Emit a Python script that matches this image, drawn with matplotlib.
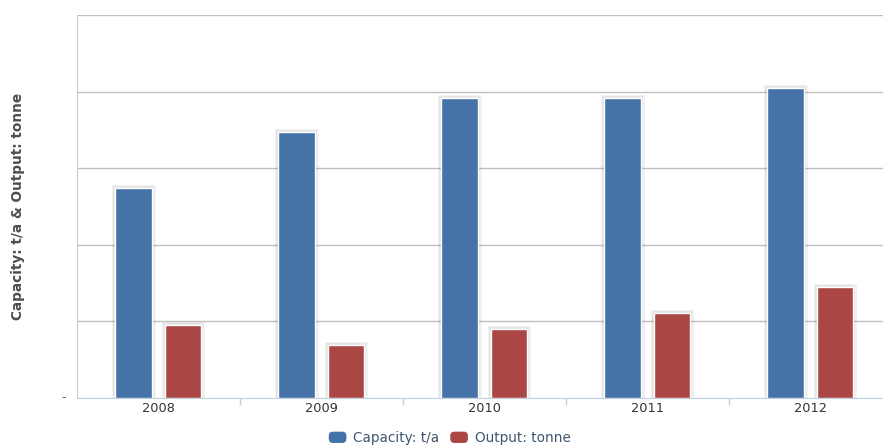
import matplotlib
matplotlib.use("Agg")
from matplotlib import pyplot as plt
from matplotlib import patheffects as pe
from matplotlib.patches import FancyBboxPatch
from matplotlib.legend_handler import HandlerPatch
import numpy as np

# datos (unidades = lineas de la cuadricula)
years = ["2008", "2009", "2010", "2011", "2012"]
capacity = [2.74, 3.47, 3.92, 3.92, 4.05]
output = [0.95, 0.69, 0.90, 1.11, 1.45]

blue = "#4572A7"
red = "#AA4643"

fig = plt.figure(figsize=(8.83, 4.48), dpi=100)
ax = fig.add_axes([77 / 883, 50 / 448, 815 / 883, 383 / 448])

x = np.arange(len(years))
# halo gris suave alrededor de las barras
sombra = [pe.Stroke(linewidth=5, foreground="#000000", alpha=0.05),
          pe.Stroke(linewidth=3, foreground="#000000", alpha=0.05),
          pe.Normal()]

b1 = ax.bar(x - 0.153, capacity, width=0.225, color=blue, edgecolor="white", linewidth=1,
            label="Capacity: t/a", zorder=3)
b2 = ax.bar(x + 0.15, output, width=0.225, color=red, edgecolor="white", linewidth=1,
            label="Output: tonne", zorder=3)
for barra in list(b1) + list(b2):
    barra.set_path_effects(sombra)

ax.set_xlim(-0.5, 4.5)
ax.set_ylim(0, 5)
ax.set_yticks([1, 2, 3, 4, 5])
ax.set_yticklabels([])
ax.grid(axis="y", color="#c0c0c0", linewidth=1, zorder=0)
ax.tick_params(axis="y", length=0)

# etiqueta "-" en el cero
ax.text(-0.58, 0, "-", ha="center", va="center", fontsize=9, color="#666666")

ax.set_xticks(x)
ax.set_xticklabels(years, fontsize=9.3, color="#333333")
ax.set_xticks(np.arange(0.5, 4.5, 1), minor=True)
ax.tick_params(axis="x", which="major", length=0, pad=3)
ax.tick_params(axis="x", which="minor", length=5, color="#c0d0e0", width=1)

for lado in ["top", "right"]:
    ax.spines[lado].set_visible(False)
ax.spines["left"].set_color("#c0d0e0")
ax.spines["bottom"].set_color("#c0d0e0")

fig.text(18 / 883, 1 - 206 / 448, "Capacity: t/a & Output: tonne", rotation=90,
         ha="center", va="center", fontsize=9.8, fontweight="bold", color="#4d4d4d")


class HandlerRedondo(HandlerPatch):
    def create_artists(self, legend, orig_handle, xdescent, ydescent, width, height, fontsize, trans):
        p = FancyBboxPatch((-xdescent + 1, -ydescent), width - 2, height,
                           boxstyle="round,pad=0,rounding_size=3",
                           facecolor=orig_handle.get_facecolor(), edgecolor="none", transform=trans)
        return [p]


leg = fig.legend(handles=[b1.patches[0], b2.patches[0]], labels=["Capacity: t/a", "Output: tonne"],
                 loc="center", bbox_to_anchor=(449 / 883, 1 - 438 / 448), ncol=2, frameon=False,
                 fontsize=9.8, handlelength=1.5, handleheight=0.9, handletextpad=0.4, columnspacing=0.7,
                 handler_map={matplotlib.patches.Rectangle: HandlerRedondo()})
for t in leg.get_texts():
    t.set_color("#3e576f")

plt.savefig("out.png", dpi=100)
